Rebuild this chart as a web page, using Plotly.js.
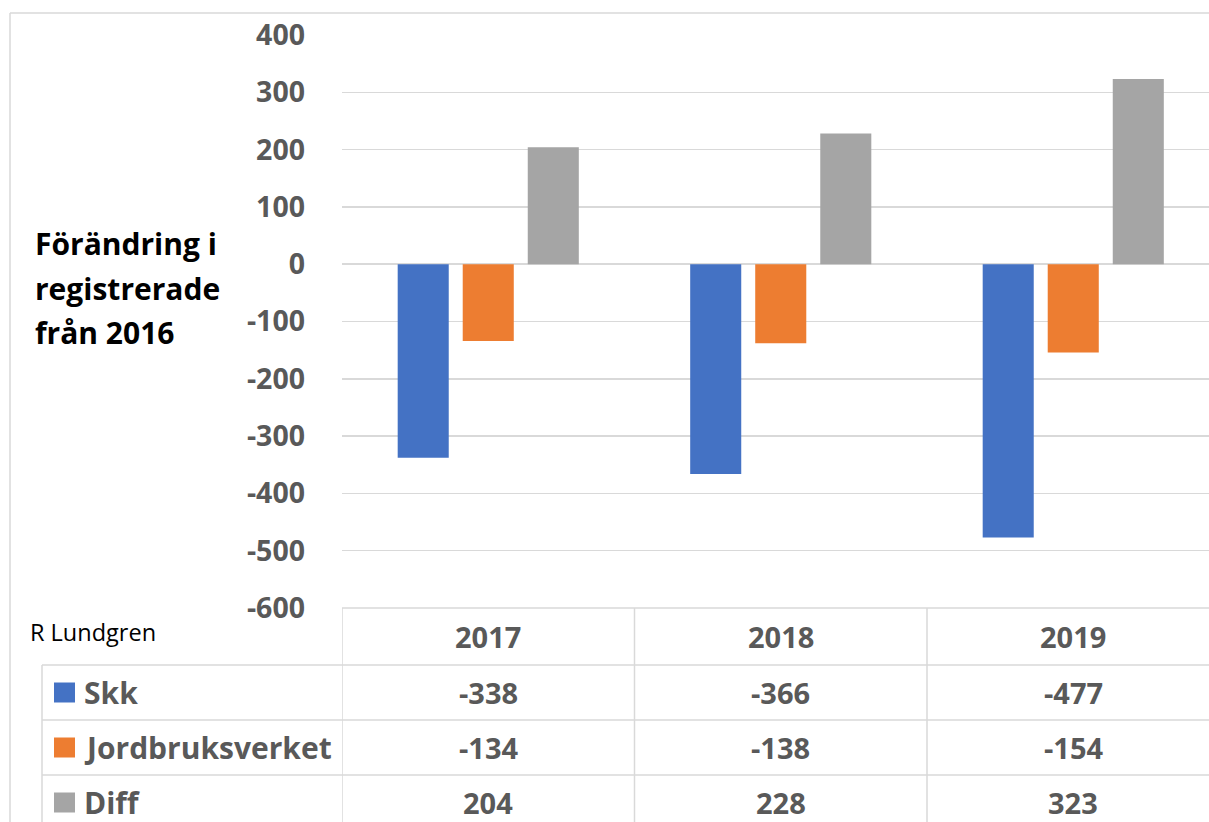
<!DOCTYPE html>
<html>
<head>
<meta charset="utf-8">
<script src="https://cdn.plot.ly/plotly-3.0.1.min.js"></script>
<style>
  html, body { margin: 0; padding: 0; background: #ffffff; }
  #chart { width: 1209px; height: 822px; }
</style>
</head>
<body>
<div id="chart"></div>
<script>
// ---- data ----
const years = ['2017', '2018', '2019'];
const seriesNames = ['Skk', 'Jordbruksverket', 'Diff'];
const skk = [-338, -366, -477];
const jordbruksverket = [-134, -138, -154];
const diff = [204, 228, 323];
const seriesColors = ['#4472C4', '#ED7D31', '#A5A5A5'];
const yTicks = [400, 300, 200, 100, 0, -100, -200, -300, -400, -500, -600];
const yAxisTitleLines = ['Förändring i', 'registrerade', 'från 2016'];
const authorNote = 'R Lundgren';

// ---- layout geometry (pixels) ----
const W = 1209, H = 822;
const M = { l: 342, r: 0, t: 35, b: 214 };
const plotH = H - M.t - M.b;           // 573
const plotW = W - M.l - M.r;           // 867
const catW = 292.5;                    // pixel width of one category
const py = p => (H - M.b - p) / plotH; // pixel y -> paper y
const px = p => (p - M.l) / plotW;     // pixel x -> paper x

const grid = '#D9D9D9';
const gray = '#595959';
const fontFam = 'Open Sans, Liberation Sans, sans-serif';

const allSeries = [skk, jordbruksverket, diff];
const traces = allSeries.map((vals, i) => ({
  type: 'bar',
  name: seriesNames[i],
  x: years,
  y: vals,
  marker: { color: seriesColors[i], line: { width: 0 } },
  hoverinfo: 'x+y+name'
}));

// table rows (pixel y bounds)
const headerTop = 608, rowH = 55;
const rowTops = [665, 720, 775];
const tableLeft = 42;

const shapes = [];
// outer chart border (left + top)
shapes.push({ type: 'line', xref: 'paper', yref: 'paper', x0: px(10), x1: px(10), y0: py(13), y1: py(H + 5), line: { color: grid, width: 1.5 } });
shapes.push({ type: 'line', xref: 'paper', yref: 'paper', x0: px(10), x1: px(W + 5), y0: py(13), y1: py(13), line: { color: grid, width: 1.5 } });
// header top line (x-axis line)
shapes.push({ type: 'line', xref: 'paper', yref: 'paper', x0: 0, x1: px(W + 5), y0: py(headerTop), y1: py(headerTop), line: { color: grid, width: 1.5 } });
// row lines
rowTops.forEach(t => {
  shapes.push({ type: 'line', xref: 'paper', yref: 'paper', x0: px(tableLeft), x1: px(W + 5), y0: py(t), y1: py(t), line: { color: grid, width: 1.5 } });
});
// table left line
shapes.push({ type: 'line', xref: 'paper', yref: 'paper', x0: px(tableLeft), x1: px(tableLeft), y0: py(rowTops[0]), y1: py(H + 5), line: { color: grid, width: 1.5 } });
// vertical separators at category boundaries
[-0.5, 0.5, 1.5, 2.5].forEach(b => {
  shapes.push({ type: 'line', xref: 'x', yref: 'paper', x0: b, x1: b, y0: py(headerTop), y1: py(H + 5), line: { color: grid, width: 1.5 } });
});
// legend keys in table
rowTops.forEach((t, i) => {
  const c = t + rowH / 2;
  shapes.push({ type: 'rect', xref: 'paper', yref: 'paper', x0: px(54), x1: px(75), y0: py(c - 10), y1: py(c + 10), fillcolor: seriesColors[i], line: { width: 0 } });
});

const annotations = [];
// y-axis title lines
const titleCenters = [243, 288, 333];
yAxisTitleLines.forEach((t, i) => {
  annotations.push({ text: '<b>' + t + '</b>', xref: 'paper', yref: 'paper', x: px(33), y: py(titleCenters[i]), xanchor: 'left', yanchor: 'middle', showarrow: false, font: { family: fontFam, size: 30, color: '#000000' } });
});
// author note
annotations.push({ text: authorNote, xref: 'paper', yref: 'paper', x: px(28), y: py(632), xanchor: 'left', yanchor: 'middle', showarrow: false, font: { family: fontFam, size: 23.5, color: '#000000' } });
// header years
years.forEach((y, j) => {
  annotations.push({ text: '<b>' + y + '</b>', xref: 'x', yref: 'paper', x: j, y: py(headerTop + 28), xanchor: 'center', yanchor: 'middle', showarrow: false, font: { family: fontFam, size: 29, color: gray } });
});
// row labels and values
rowTops.forEach((t, i) => {
  const c = t + rowH / 2;
  annotations.push({ text: '<b>' + seriesNames[i] + '</b>', xref: 'paper', yref: 'paper', x: px(82), y: py(c), xanchor: 'left', yanchor: 'middle', showarrow: false, font: { family: fontFam, size: 30, color: gray } });
  allSeries[i].forEach((v, j) => {
    annotations.push({ text: '<b>' + v + '</b>', xref: 'x', yref: 'paper', x: j, y: py(c), xanchor: 'center', yanchor: 'middle', showarrow: false, font: { family: fontFam, size: 29, color: gray } });
  });
});

const layout = {
  width: W, height: H,
  margin: M,
  paper_bgcolor: '#ffffff',
  plot_bgcolor: '#ffffff',
  showlegend: false,
  barmode: 'group',
  bargap: 0.333,
  bargroupgap: 0.215,
  xaxis: {
    type: 'category',
    range: [-0.5, -0.5 + plotW / catW],
    showticklabels: false,
    showgrid: false,
    zeroline: false,
    showline: false,
    ticks: ''
  },
  yaxis: {
    range: [-600, 400],
    tickvals: yTicks,
    ticktext: yTicks.map(String),
    showgrid: true,
    gridcolor: grid,
    gridwidth: 1.5,
    zeroline: false,
    showline: false,
    ticks: '',
    ticklabelstandoff: 36,
    tickfont: { family: fontFam, size: 28.5, color: gray, weight: 700 }
  },
  shapes: shapes,
  annotations: annotations
};

Plotly.newPlot('chart', traces, layout, { displayModeBar: false, staticPlot: true });
</script>
</body>
</html>
